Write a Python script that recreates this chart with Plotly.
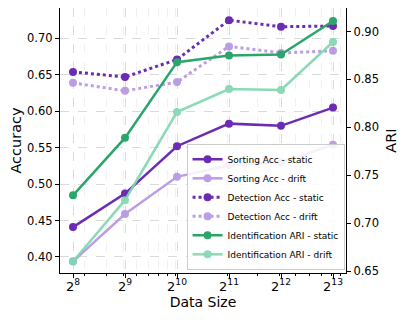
import plotly.graph_objects as go

# data sizes (2^8 .. 2^13)
data_size = [256, 512, 1024, 2048, 4096, 8192]
size_labels = ["2<sup>8</sup>", "2<sup>9</sup>", "2<sup>10</sup>",
               "2<sup>11</sup>", "2<sup>12</sup>", "2<sup>13</sup>"]

# accuracy (left axis)
sorting_static = [0.441, 0.487, 0.552, 0.583, 0.580, 0.605]
sorting_drift = [0.394, 0.459, 0.510, 0.526, 0.530, 0.554]
detection_static = [0.654, 0.647, 0.671, 0.725, 0.716, 0.717]
detection_drift = [0.639, 0.628, 0.640, 0.689, 0.680, 0.683]

# ARI (right axis)
ident_static = [0.729, 0.789, 0.868, 0.875, 0.876, 0.911]
ident_drift = [0.660, 0.724, 0.816, 0.840, 0.839, 0.889]

PURPLE = "#6c2bb3"
PURPLE_L = "#b494e0"
GREEN = "#2aa56b"
GREEN_L = "#7fd7ae"

fig = go.Figure()


def add_line(y, name, color, dash="solid", axis="y", opacity=1.0):
    fig.add_trace(go.Scatter(
        x=data_size, y=y, name=name, yaxis=axis,
        mode="lines+markers",
        line=dict(color=color, width=2.5 if dash == "solid" else 3, dash=dash),
        marker=dict(color=color, size=8),
        opacity=opacity,
    ))


add_line(sorting_static, "Sorting Acc - static", PURPLE)
add_line(sorting_drift, "Sorting Acc - drift", PURPLE_L, opacity=0.9)
add_line(detection_static, "Detection Acc - static", PURPLE, dash="dot")
add_line(detection_drift, "Detection Acc - drift", PURPLE_L, dash="dot", opacity=0.9)
add_line(ident_static, "Identification ARI - static", GREEN, axis="y2")
add_line(ident_drift, "Identification ARI - drift", GREEN_L, axis="y2", opacity=0.9)

minor_vals = [m * 10 ** e for e in (2, 3) for m in range(2, 10)] + [1000]

# page body adds an 8px offset, margins compensate for it
fig.update_layout(
    width=406, height=320,
    margin=dict(l=52, r=68, t=0, b=55),
    template="plotly_white",
    paper_bgcolor="white", plot_bgcolor="white",
    font=dict(family="DejaVu Sans", size=11.5, color="black"),
    xaxis=dict(
        type="log", range=[7.75 * 0.30103, 13.25 * 0.30103],
        tickmode="array", tickvals=data_size, ticktext=size_labels,
        ticks="outside", ticklen=4, tickcolor="black",
        showline=True, linecolor="black", linewidth=1.2, mirror=True,
        showgrid=True, gridcolor="#dadada", griddash="dash", gridwidth=0.7,
        minor=dict(tickmode="array", tickvals=minor_vals, ticks="outside",
                   ticklen=2, tickcolor="black", showgrid=True,
                   gridcolor="#f0f0f0", griddash="dash", gridwidth=0.6),
        title=dict(text="Data Size", font=dict(size=14), standoff=3),
        tickfont=dict(size=13),
        ticklabelstandoff=-3,
        zeroline=False, automargin=False,
    ),
    yaxis=dict(
        range=[0.378, 0.7417], tickvals=[0.40, 0.45, 0.50, 0.55, 0.60, 0.65, 0.70],
        tickformat=".2f", ticks="outside", ticklen=4, tickcolor="black",
        showline=True, linecolor="black", linewidth=1.2,
        showgrid=True, gridcolor="#dadada", griddash="dash", gridwidth=0.7,
        title=dict(text="Accuracy", font=dict(size=14.5), standoff=4),
        zeroline=False, automargin=False,
    ),
    yaxis2=dict(
        overlaying="y", side="right",
        range=[0.648, 0.9245], tickvals=[0.65, 0.70, 0.75, 0.80, 0.85, 0.90],
        tickformat=".2f", ticks="outside", ticklen=4, tickcolor="black",
        showline=True, linecolor="black", linewidth=1.2,
        showgrid=False, zeroline=False, automargin=False,
        title=dict(text="ARI", font=dict(size=14.5), standoff=7),
    ),
    legend=dict(
        x=0.995, y=0.012, xanchor="right", yanchor="bottom",
        bgcolor="rgba(255,255,255,0.85)", bordercolor="#cccccc", borderwidth=1,
        font=dict(size=9), tracegroupgap=0, itemwidth=30,
    ),
    showlegend=True,
)

fig.write_html("out.html")
